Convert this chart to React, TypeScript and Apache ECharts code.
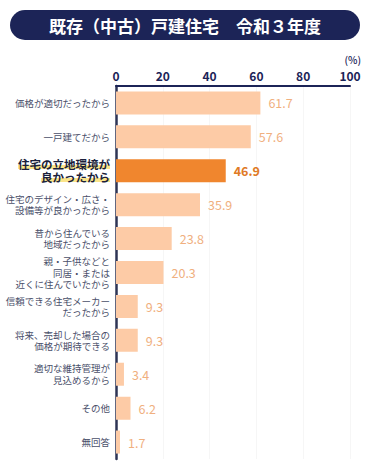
import React, { useEffect, useRef } from "react";
import * as echarts from "echarts";

const title = "既存（中古）戸建住宅　令和３年度";
const categories = [
  "価格が適切だったから",
  "一戸建てだから",
  "住宅の立地環境が\n良かったから",
  "住宅のデザイン・広さ・\n設備等が良かったから",
  "昔から住んでいる\n地域だったから",
  "親・子供などと\n同居・または\n近くに住んでいたから",
  "信頼できる住宅メーカー\nだったから",
  "将来、売却した場合の\n価格が期待できる",
  "適切な維持管理が\n見込めるから",
  "その他",
  "無回答",
];
const values = [61.7, 57.6, 46.9, 35.9, 23.8, 20.3, 9.3, 9.3, 3.4, 6.2, 1.7];
const highlightIndex = 2;
const xTicks = { min: 0, max: 100, interval: 20 };

const NAVY = "#1c2457";
const FONT = "'Noto Sans CJK JP', 'Noto Sans', sans-serif";

export default function App() {
  const ref = useRef<HTMLDivElement>(null);
  useEffect(() => {
    document.body.style.margin = "0";
    const chart = echarts.init(ref.current!, null, { renderer: "svg" });
    const hlBg = new echarts.graphic.LinearGradient(0, 0, 0, 1, [
      { offset: 0, color: "rgba(255,255,255,0)" },
      { offset: 0.55, color: "rgba(255,255,255,0)" },
      { offset: 0.55, color: "#fbe58a" },
      { offset: 0.92, color: "#fbe58a" },
      { offset: 0.92, color: "rgba(255,255,255,0)" },
      { offset: 1, color: "rgba(255,255,255,0)" },
    ]);
    chart.setOption({
      animation: false,
      textStyle: { fontFamily: FONT },
      graphic: [
        {
          type: "rect",
          shape: { x: 10, y: 10, width: 350, height: 30, r: 15 },
          style: { fill: NAVY },
        },
        {
          type: "text",
          x: 185,
          y: 25,
          style: {
            text: title,
            fill: "#ffffff",
            font: `bold 17px ${FONT}`,
            align: "center",
            verticalAlign: "middle",
          },
        },
        {
          type: "text",
          x: 361,
          y: 59,
          style: {
            text: "(%)",
            fill: NAVY,
            font: `500 10px ${FONT}`,
            align: "right",
            verticalAlign: "middle",
          },
        },
      ],
      grid: { left: 116, right: 20, top: 86, bottom: 14, containLabel: false },
      xAxis: {
        type: "value",
        position: "top",
        min: xTicks.min,
        max: xTicks.max,
        interval: xTicks.interval,
        axisLine: { show: true, lineStyle: { color: NAVY, width: 2 } },
        axisTick: { show: false },
        axisLabel: {
          color: NAVY,
          fontSize: 12,
          fontWeight: "bold",
          margin: 5,
          fontFamily: FONT,
        },
        splitLine: { show: true, lineStyle: { color: "#f6f6f6", width: 1 } },
      },
      yAxis: {
        type: "category",
        inverse: true,
        data: categories,
        axisLine: { show: true, lineStyle: { color: "#2e3455", width: 2.5 } },
        axisTick: { show: false },
        axisLabel: {
          margin: 6,
          color: "#4a4f6a",
          fontSize: 9.5,
          lineHeight: 11.5,
          align: "right",
          fontFamily: FONT,
          formatter: (v: string, i: number) => {
            if (i === highlightIndex) {
              return v
                .split("\n")
                .map((s) => `{h|${s}}`)
                .join("\n");
            }
            return v;
          },
          rich: {
            h: {
              fontSize: 11.5,
              fontWeight: "bold",
              color: "#1b1f3b",
              lineHeight: 13,
              backgroundColor: hlBg,
              fontFamily: FONT,
            },
          },
        },
      },
      series: [
        {
          type: "bar",
          barWidth: 23,
          data: values.map((v, i) => ({
            value: v,
            itemStyle: { color: i === highlightIndex ? "#f0862e" : "#fdcba6" },
            label: {
              color: i === highlightIndex ? "#e07a25" : "#f0b07f",
              fontWeight: i === highlightIndex ? 600 : "normal",
            },
          })),
          label: {
            show: true,
            position: "right",
            distance: 8,
            fontSize: 12.5,
            fontFamily: FONT,
            formatter: (p: any) => p.value.toFixed(1),
          },
        },
      ],
    });
    return () => chart.dispose();
  }, []);
  return <div ref={ref} style={{ width: 370, height: 473 }} />;
}
